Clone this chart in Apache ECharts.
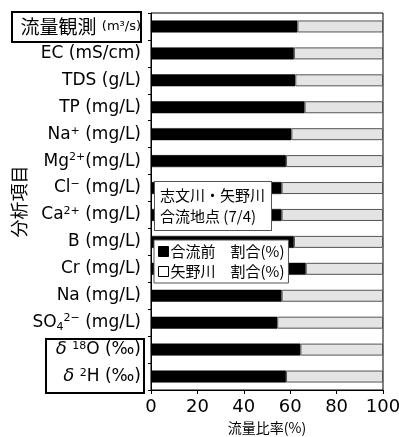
<!DOCTYPE html>
<html>
<head>
<meta charset="utf-8">
<script src="https://cdn.jsdelivr.net/npm/echarts@6/dist/echarts.min.js"></script>
<style>
html,body{margin:0;padding:0;background:#fff;}
#chart{width:399px;height:437px;}
</style>
</head>
<body>
<div id="chart"></div>
<script>
// Analysis items (top to bottom), as rich-text keys
const categories = [
  '流量観測', 'EC', 'TDS', 'TP', 'Na+', 'Mg2+', 'Cl-', 'Ca2+',
  'B', 'Cr', 'Na', 'SO42-', 'd18O', 'd2H'
];
// Share of flow from upstream of the confluence (%)
const beforeShare = [63.1, 61.6, 62.2, 66.2, 60.5, 58.2, 56.3, 56.3, 61.6, 66.7, 56.3, 54.4, 64.4, 58.2];
// Share of flow from the Yano river (%)
const yanoShare = beforeShare.map(v => +(100 - v).toFixed(1));
const xTicks = [0, 20, 40, 60, 80, 100];
const seriesNames = ['合流前　割合(%)', '矢野川　割合(%)'];

const FONT = '"DejaVu Sans", "Noto Sans CJK JP", sans-serif';
const JFONT = '"Noto Sans CJK JP", sans-serif';

const labelText = {
  '流量観測': '{b|流量観測} {s|(m³/s)}',
  'EC': 'EC (mS/cm)',
  'TDS': 'TDS (g/L)',
  'TP': 'TP (mg/L)',
  'Na+': 'Na{sup|+} (mg/L)',
  'Mg2+': 'Mg{sup|2+}(mg/L)',
  'Cl-': 'Cl{sup|−} (mg/L)',
  'Ca2+': 'Ca{sup|2+} (mg/L)',
  'B': 'B (mg/L)',
  'Cr': 'Cr (mg/L)',
  'Na': 'Na (mg/L)',
  'SO42-': 'SO{sub|4}{sup|2−} (mg/L)',
  'd18O': '{it|δ} {sup|18}O (‰)',
  'd2H': '{it|δ} {sup|2}H (‰)'
};

const chart = echarts.init(document.getElementById('chart'));
chart.setOption({
  animation: false,
  textStyle: { fontFamily: FONT },
  grid: {
    left: 151, right: 16, top: 13, bottom: 47,
    outerBoundsMode: 'none', containLabel: false,
    show: true, borderColor: '#000', borderWidth: 1, backgroundColor: 'transparent'
  },
  xAxis: {
    type: 'value', min: 0, max: 100, interval: 20,
    axisLine: { show: true, lineStyle: { color: '#000' } },
    axisTick: { show: true, length: 4, lineStyle: { color: '#000' } },
    splitLine: { show: false },
    axisLabel: { color: '#000', fontSize: 18, margin: 8, fontFamily: FONT,
      formatter: v => xTicks.includes(v) ? String(v) : '' },
    name: '流量比率(%)', nameLocation: 'middle', nameGap: 31, nameMoveOverlap: false,
    nameTextStyle: { color: '#000', fontSize: 14, fontFamily: JFONT }
  },
  yAxis: {
    type: 'category', data: categories, inverse: true,
    axisLine: { show: true, lineStyle: { color: '#000' } },
    axisTick: { show: true, length: 3, lineStyle: { color: '#000' } },
    name: '分析項目', nameLocation: 'middle', nameGap: 123, nameRotate: 90,
    nameMoveOverlap: false,
    nameTextStyle: { color: '#000', fontSize: 18, fontFamily: JFONT },
    axisLabel: {
      color: '#000', fontSize: 17, margin: 10, fontFamily: FONT,
      formatter: v => labelText[v],
      rich: {
        b: { fontSize: 19, color: '#000', fontFamily: JFONT },
        s: { fontSize: 13, color: '#000', fontFamily: FONT },
        sup: { fontSize: 11, color: '#000', verticalAlign: 'top', padding: [0, 0, 7, 0], fontFamily: FONT },
        sub: { fontSize: 11, color: '#000', padding: [9, 0, 0, 0], fontFamily: FONT },
        it: { fontSize: 18, color: '#000', fontStyle: 'italic', fontFamily: FONT }
      }
    }
  },
  legend: {
    left: 154, top: 240, orient: 'vertical',
    backgroundColor: '#fff', borderColor: '#555', borderWidth: 1,
    padding: [4, 4, 4, 4], itemGap: 5, itemWidth: 10, itemHeight: 10,
    textStyle: { color: '#000', fontSize: 15, fontFamily: JFONT, padding: [0, 0, 0, -3] },
    z: 10,
    data: [
      { name: seriesNames[0], icon: 'rect', itemStyle: { color: '#000', borderColor: '#000', borderWidth: 1 } },
      { name: seriesNames[1], icon: 'rect', itemStyle: { color: '#fff', borderColor: '#000', borderWidth: 1 } }
    ]
  },
  series: [
    {
      name: seriesNames[0], type: 'bar', stack: 'r', data: beforeShare, barWidth: 12,
      itemStyle: { color: '#000', borderColor: '#000', borderWidth: 0.5 }
    },
    {
      name: seriesNames[1], type: 'bar', stack: 'r', data: yanoShare, barWidth: 12,
      itemStyle: { color: '#e4e4e4', borderColor: '#555', borderWidth: 1 }
    }
  ],
  graphic: [
    { type: 'rect', shape: { x: 12, y: 12, width: 129, height: 30 },
      style: { fill: 'none', stroke: '#000', lineWidth: 2 }, z: 20 },
    { type: 'rect', shape: { x: 46, y: 339, width: 98, height: 54 },
      style: { fill: 'none', stroke: '#000', lineWidth: 2 }, z: 20 },
    { type: 'text', left: 154, top: 181, z: 20,
      style: {
        text: '志文川・矢野川\n合流地点 (7/4)', fill: '#000',
        font: '15px ' + JFONT, lineHeight: 21,
        backgroundColor: '#fff', borderColor: '#555', borderWidth: 1,
        padding: [3, 6, 3, 5]
      }
    }
  ]
});
</script>
</body>
</html>
